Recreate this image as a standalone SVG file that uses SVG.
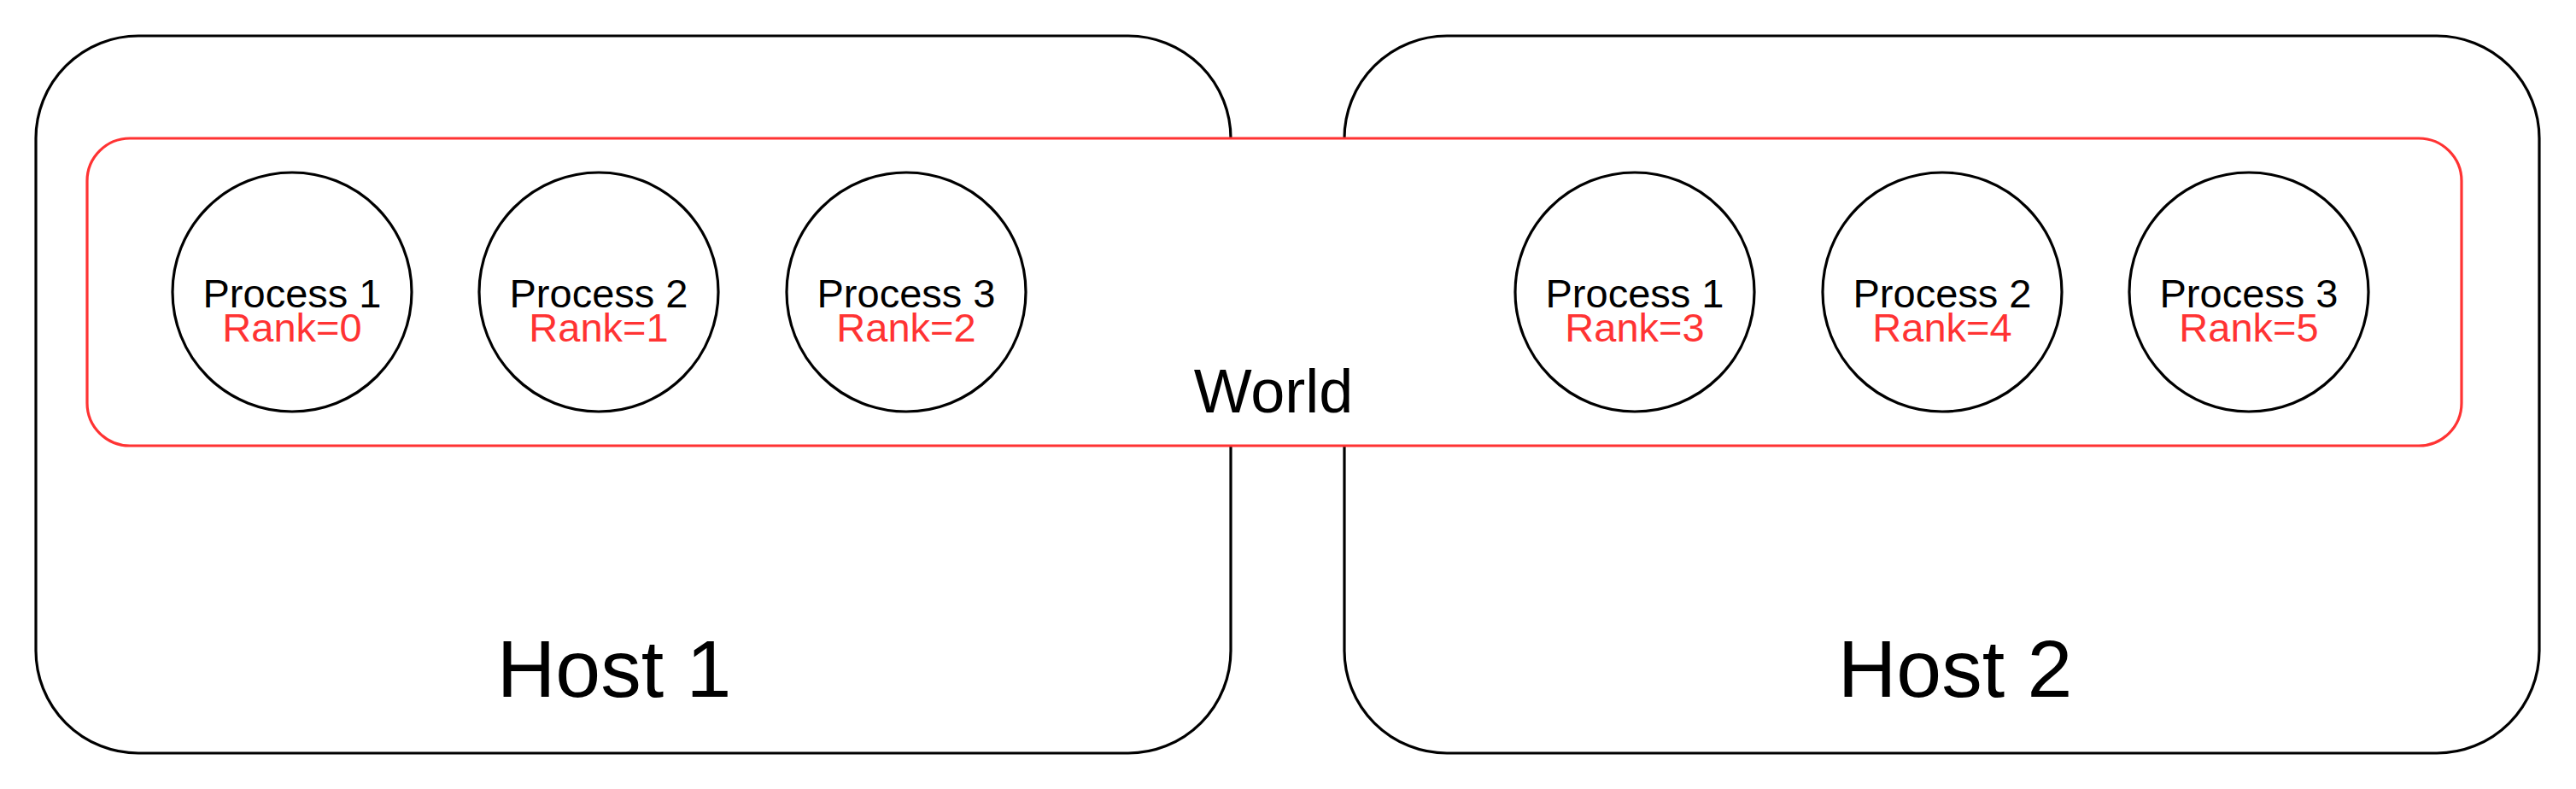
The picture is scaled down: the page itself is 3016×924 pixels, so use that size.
<svg xmlns="http://www.w3.org/2000/svg" width="3016" height="924" viewBox="0 0 3016 924">
<style>
.host{fill:#ffffff;stroke:#000000;stroke-width:3.2}
.world{fill:#ffffff;stroke:#ff3333;stroke-width:3.2}
.proc{fill:#ffffff;stroke:#000000;stroke-width:3.2}
.t{font-family:"Liberation Sans",Arial,sans-serif;text-anchor:middle;fill:#000000}
.p{font-size:47px}
.r{fill:#ff3333}
.w{font-size:72px}
.h{font-size:95px}
</style>
<rect width="3016" height="924" fill="#ffffff"/>
<g id="host1">
<rect class="host" x="42" y="42" width="1399" height="840" rx="120" ry="120"/>
<text class="t h" x="719" y="816">Host 1</text>
</g>
<g id="host2">
<rect class="host" x="1574" y="42" width="1399" height="840" rx="120" ry="120"/>
<text class="t h" x="2289" y="816">Host 2</text>
</g>
<g id="world">
<rect class="world" x="102" y="162" width="2780" height="360" rx="50" ry="50"/>
<text class="t w" x="1491" y="483">World</text>
</g>
<g id="h1p1">
<circle class="proc" cx="342" cy="342" r="140"/>
<text class="t p" x="342" y="360">Process 1<tspan class="r" x="342" dy="39.5">Rank=0</tspan></text>
</g>
<g id="h1p2">
<circle class="proc" cx="701" cy="342" r="140"/>
<text class="t p" x="701" y="360">Process 2<tspan class="r" x="701" dy="39.5">Rank=1</tspan></text>
</g>
<g id="h1p3">
<circle class="proc" cx="1061" cy="342" r="140"/>
<text class="t p" x="1061" y="360">Process 3<tspan class="r" x="1061" dy="39.5">Rank=2</tspan></text>
</g>
<g id="h2p1">
<circle class="proc" cx="1914" cy="342" r="140"/>
<text class="t p" x="1914" y="360">Process 1<tspan class="r" x="1914" dy="39.5">Rank=3</tspan></text>
</g>
<g id="h2p2">
<circle class="proc" cx="2274" cy="342" r="140"/>
<text class="t p" x="2274" y="360">Process 2<tspan class="r" x="2274" dy="39.5">Rank=4</tspan></text>
</g>
<g id="h2p3">
<circle class="proc" cx="2633" cy="342" r="140"/>
<text class="t p" x="2633" y="360">Process 3<tspan class="r" x="2633" dy="39.5">Rank=5</tspan></text>
</g>
<g id="connectors"></g>
</svg>
